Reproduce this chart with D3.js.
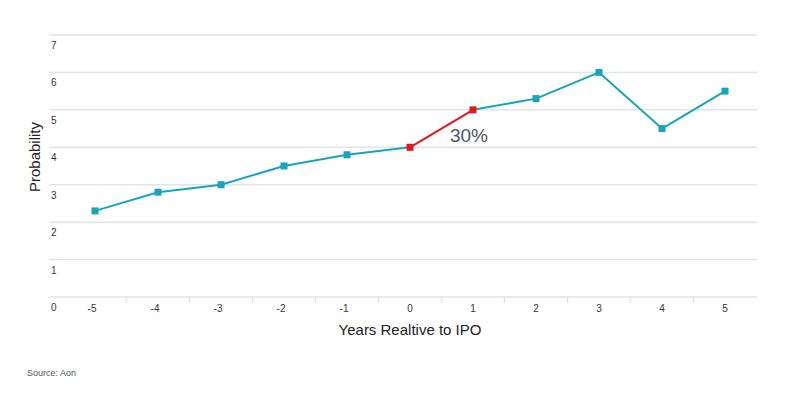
<!DOCTYPE html>
<html>
<head>
<meta charset="utf-8">
<script src="https://cdnjs.cloudflare.com/ajax/libs/d3/7.8.5/d3.min.js"></script>
<style>
  body { margin: 0; background: #fff; }
  text { font-family: "Liberation Sans", Arial, sans-serif; }
</style>
</head>
<body>
<div id="chart"></div>
<script>
// years relative to IPO and probability values
var years = ["-5", "-4", "-3", "-2", "-1", "0", "1", "2", "3", "4", "5"];
var probability = [2.3, 2.8, 3.0, 3.5, 3.8, 4.0, 5.0, 5.3, 6.0, 4.5, 5.5];
var highlightYears = ["0", "1"];
var yTicks = [0, 1, 2, 3, 4, 5, 6, 7];
var highlightLabel = "30%";

var width = 792, height = 394;
var teal = "#18a5ba", red = "#e8151b";

var svg = d3.select("#chart").append("svg")
    .attr("width", width)
    .attr("height", height);

var x = d3.scalePoint()
    .domain(years)
    .range([95, 725]);

var y = d3.scaleLinear()
    .domain([0, 7])
    .range([297, 35]);

// grid lines
svg.append("g").selectAll("line")
    .data(yTicks)
    .enter().append("line")
    .attr("x1", 49).attr("x2", 757)
    .attr("y1", function(d) { return y(d); })
    .attr("y2", function(d) { return y(d); })
    .style("stroke", "#dfe5e8")
    .style("stroke-width", 1.5);

// y labels sit just under each grid line
svg.append("g").selectAll("text")
    .data(yTicks)
    .enter().append("text")
    .attr("x", 51)
    .attr("y", function(d) { return y(d) + 14; })
    .style("font-size", "10px")
    .style("fill", "#333")
    .text(function(d) { return d; });

// little tick marks between the years
var step = x.step();
svg.append("g").selectAll("line")
    .data(years.slice(1))
    .enter().append("line")
    .attr("x1", function(d) { return x(d) - step / 2; })
    .attr("x2", function(d) { return x(d) - step / 2; })
    .attr("y1", y(0)).attr("y2", y(0) + 6)
    .style("stroke", "#dfe5e8")
    .style("stroke-width", 1.5);

svg.append("g").selectAll("text")
    .data(years)
    .enter().append("text")
    .attr("x", function(d) { return x(d) - (d[0] == "-" ? 3 : 0); })
    .attr("y", 312)
    .style("text-anchor", "middle")
    .style("font-size", "10px")
    .style("fill", "#333")
    .text(function(d) { return d; });

// axis titles
svg.append("text")
    .attr("x", 410).attr("y", 335)
    .style("text-anchor", "middle")
    .style("font-size", "15px")
    .style("fill", "#222")
    .text("Years Realtive to IPO");

svg.append("text")
    .attr("transform", "translate(40,157) rotate(-90)")
    .style("text-anchor", "middle")
    .style("font-size", "15px")
    .style("fill", "#222")
    .text("Probability");

// line, drawn one segment at a time so the IPO jump can be red
var pts = years.map(function(d, i) { return {year: d, value: probability[i]}; });
var segs = d3.pairs(pts);
function isHot(p) { return highlightYears.indexOf(p.year) >= 0; }

svg.append("g").selectAll("line")
    .data(segs)
    .enter().append("line")
    .attr("x1", function(d) { return x(d[0].year); })
    .attr("y1", function(d) { return y(d[0].value); })
    .attr("x2", function(d) { return x(d[1].year); })
    .attr("y2", function(d) { return y(d[1].value); })
    .style("stroke", function(d) { return isHot(d[0]) && isHot(d[1]) ? red : teal; })
    .style("stroke-width", 2);

var m = 7;
svg.append("g").selectAll("rect")
    .data(pts)
    .enter().append("rect")
    .attr("x", function(d) { return x(d.year) - m / 2; })
    .attr("y", function(d) { return y(d.value) - m / 2; })
    .attr("width", m).attr("height", m)
    .style("fill", function(d) { return isHot(d) ? red : teal; });

svg.append("text")
    .attr("x", 469).attr("y", 142)
    .style("text-anchor", "middle")
    .style("font-size", "19px")
    .style("fill", "#4a5562")
    .text(highlightLabel);

svg.append("text")
    .attr("x", 27).attr("y", 376)
    .style("font-size", "9px")
    .style("fill", "#555")
    .text("Source: Aon");
</script>
</body>
</html>
